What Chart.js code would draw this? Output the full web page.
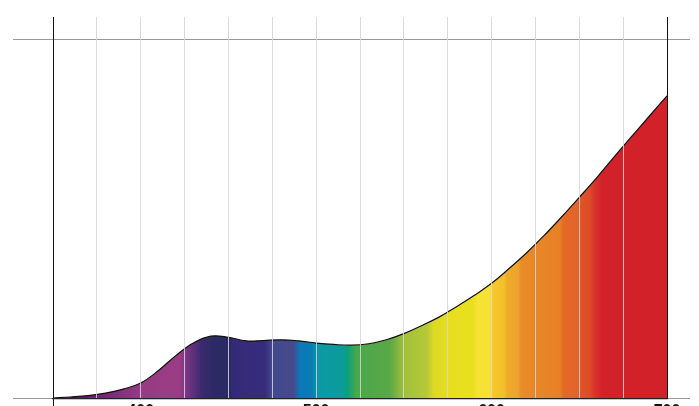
<!DOCTYPE html>
<html>
<head>
<meta charset="utf-8">
<script src="https://cdn.jsdelivr.net/npm/chart.js@4"></script>
<style>
html, body { margin: 0; padding: 0; background: #fff; overflow: hidden; }
#wrap { width: 699px; height: 430px; }
</style>
</head>
<body>
<div id="wrap"><canvas id="spectrumChart"></canvas></div>
<script>
// wavelength (nm) and relative intensity
const wavelengths = [350, 360, 370, 380, 390, 400, 410, 420, 430, 440, 450, 460, 470, 480, 490, 500, 510, 520, 530, 540, 550, 560, 570, 580, 590, 600, 610, 620, 630, 640, 650, 660, 670, 680, 690, 700];
const intensity = [0.2, 0.5, 0.9, 1.6, 2.7, 4.4, 7.8, 12.0, 15.5, 17.4, 17.1, 16.1, 16.2, 16.4, 16.1, 15.5, 15.1, 14.9, 15.3, 16.4, 18.1, 20.3, 22.7, 25.6, 28.7, 32.1, 36.2, 40.6, 45.4, 50.6, 56.0, 61.5, 67.3, 73.0, 78.6, 84.2];
const tickLabels = ["400", "500", "600", "700"];

// colour stops of the spectrum fill, by wavelength
const stopNm = [350, 370, 401, 422, 426, 435, 441, 451, 453, 471, 475, 487, 491, 497, 502, 515, 518, 523, 542, 550, 563, 567, 575, 589, 592, 599, 601, 607, 609, 615, 617, 639, 641, 649, 651, 656, 658, 663, 700];
const stopColor = ["#4a1450", "#6b1e6e", "#963c84", "#9b3d85", "#7a3585", "#3a2a6e", "#2c2a62", "#2c2a62", "#342b78", "#372c7c", "#424a8c", "#454a8c", "#0a79b8", "#0a7cb4", "#0b9aa5", "#0b9c9a", "#0ba07b", "#4aa74c", "#5aa846", "#a0c13a", "#b6c937", "#dcd924", "#e6de1e", "#e8df1f", "#f5e232", "#f5e232", "#f5c72a", "#f3c02b", "#eeab2c", "#eca52c", "#e98b29", "#e78026", "#e46a26", "#e2642a", "#df5427", "#dd4c28", "#d9392a", "#d3212a", "#d3212a"];

const nmMin = 350, nmMax = 700;

function spectrumFill(context) {
  const chart = context.chart;
  if (!chart.chartArea) return null;
  const xs = chart.scales.x;
  const x0 = xs.getPixelForValue(nmMin);
  const x1 = xs.getPixelForValue(nmMax);
  const g = chart.ctx.createLinearGradient(x0, 0, x1, 0);
  stopNm.forEach(function (nm, i) {
    g.addColorStop((nm - nmMin) / (nmMax - nmMin), stopColor[i]);
  });
  return g;
}

function edgeBlack(other) {
  return function (ctx) {
    const v = ctx.tick ? ctx.tick.value : null;
    return (v === nmMin || v === nmMax) ? "#111" : other;
  };
}

new Chart(document.getElementById("spectrumChart"), {
  type: "line",
  data: {
    datasets: [{
      data: wavelengths.map(function (nm, i) { return { x: nm, y: intensity[i] }; }),
      borderColor: "#111",
      borderWidth: 1.2,
      backgroundColor: spectrumFill,
      fill: "origin",
      pointRadius: 0,
      tension: 0.4
    }]
  },
  options: {
    responsive: true,
    maintainAspectRatio: false,
    animation: false,
    layout: { padding: { top: 17, left: 13, right: 9, bottom: 16 } },
    plugins: { legend: { display: false }, tooltip: { enabled: false } },
    scales: {
      x: {
        type: "linear",
        position: "bottom",
        min: nmMin,
        max: nmMax,
        grid: {
          z: 1,
          color: edgeBlack("rgba(215,215,215,0.85)"),
          lineWidth: 1,
          drawTicks: true,
          tickLength: 10,
          tickColor: function (ctx) {
            return ctx.tick && ctx.tick.value === nmMin ? "#111" : "rgba(0,0,0,0)";
          }
        },
        border: { display: true, color: "#222", width: 1.2, z: 1 },
        ticks: {
          stepSize: 25,
          padding: -7,
          autoSkip: false,
          maxRotation: 0,
          color: "#111",
          font: { family: "Liberation Sans", size: 16, weight: "bold" },
          callback: function (value) {
            const s = String(value);
            return tickLabels.indexOf(s) >= 0 ? s : "";
          }
        }
      },
      xTop: {
        type: "linear",
        position: "top",
        min: nmMin,
        max: nmMax,
        grid: {
          drawOnChartArea: false,
          drawTicks: true,
          tickLength: 22,
          tickColor: edgeBlack("#dadada")
        },
        border: { display: true, color: "#999", width: 1 },
        ticks: { stepSize: 25, display: false }
      },
      y: {
        position: "left",
        min: 0,
        max: 100,
        grid: {
          drawOnChartArea: false,
          drawTicks: true,
          tickLength: 40,
          tickColor: "#999"
        },
        border: { display: true, color: "#111", width: 1 },
        ticks: { stepSize: 100, display: false }
      },
      yRight: {
        position: "right",
        min: 0,
        max: 100,
        grid: {
          drawOnChartArea: false,
          drawTicks: true,
          tickLength: 23,
          tickColor: "#999"
        },
        border: { display: true, color: "#111", width: 1 },
        ticks: { stepSize: 100, display: false }
      }
    }
  }
});
</script>
</body>
</html>
